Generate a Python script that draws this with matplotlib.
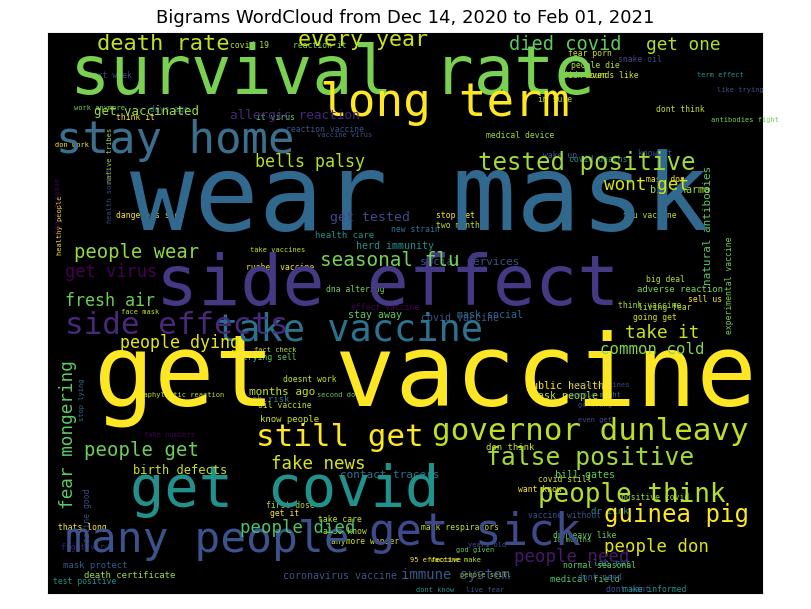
import matplotlib
matplotlib.use("Agg")
import matplotlib.pyplot as plt

big = [("wear mask",420,200,107,"#31688e"),("survival rate",332,75,67,"#7ad151"),
 ("get vaccine",425,378,100,"#fde725"),("side effect",388,285,70,"#443983"),
 ("long term",445,103,46,"#fde725"),("stay home",175,140,44,"#3b6f8e"),
 ("get covid",285,490,57,"#21918c"),("get sick",475,532,44,"#3e4a89"),
 ("many people",207,540,43,"#3b528b"),("take vaccine",350,330,37,"#2c728e"),
 ("still get",340,437,31,"#fde725"),("side effects",177,325,31,"#482878"),
 ("governor dunleavy",590,432,31,"#bddf26"),("people think",632,495,26,"#b5de2b"),
 ("false positive",590,458,24.6,"#a0da39"),("guinea pig",677,515,24,"#fde725"),
 ("tested positive",587,163,24,"#a0da39"),("death rate",163,44,22,"#c2df23"),
 ("every year",363,40,21.6,"#cde11d"),("died covid",565,45,18.6,"#5ec962"),
 ("get one",683,45,17.8,"#addc30"),("wont get",647,185,17.6,"#d2e21b"),
 ("bells palsy",310,162,16.6,"#b5de2b"),("people wear",137,253,18.9,"#90d743"),
 ("fresh air",110,301,16.6,"#6ccd5a"),("get virus",111,272,17,"#440154"),
 ("seasonal flu",390,260,19.4,"#75d054"),("take it",662,333,17.8,"#c8e020"),
 ("common cold",652,350,15.8,"#84d44b"),("people dying",180,343,16.6,"#e5e419"),
 ("people get",142,450,19,"#6ccd5a"),("fake news",318,464,17.5,"#d8e219"),
 ("fear mongering",68,435,17.8,"#5ec962"),("people died",298,528,17.4,"#4ac16d"),
 ("people don",657,547,17.4,"#dde318"),("immune system",455,575,14,"#38598c"),
 ("people need",572,557,17.4,"#48186a"),("get tested",370,218,13.3,"#3e4a89"),
 ("allergic reaction",295,116,12.7,"#482878"),("get vaccinated",147,112,12.5,"#a0da39"),
 ("months ago",282,392,11,"#c2df23"),("birth defects",180,470,12,"#c8e020")]

small = [("contact tracers",390,475,11,"#2c728e"),("social services",470,262,11,"#3b528b"),
 ("natural antibodies",708,225,11,"#5ec962"),("big pharma",680,190,10,"#a0da39"),
 ("herd immunity",395,246,10,"#21918c"),("stay away",375,315,10,"#5ec962"),
 ("covid vaccine",460,318,10,"#3b528b"),("mask social",490,315,10,"#31688e"),
 ("public health",565,386,10,"#fde725"),("mask people",565,396,10,"#bddf26"),
 ("bill gates",585,475,10,"#5ec962"),("dr zink",610,512,9,"#21918c"),
 ("lab rat",612,563,9,"#21918c"),("medical field",585,580,9,"#4ac16d"),
 ("coronavirus vaccine",340,576,10,"#3b528b"),("death certificate",130,575,9,"#a0da39"),
 ("mask protect",95,565,9,"#38598c"),("test positive",85,582,8,"#21918c"),
 ("fight virus",88,548,8,"#48186a"),("thats long",82,528,8,"#fde725"),
 ("vaccine good",88,518,8,"#3e4a89"),("know people",290,420,9,"#c8e020"),
 ("high risk",265,400,9,"#2c728e"),("trying sell",270,358,8,"#5ec962"),
 ("oil vaccine",285,405,8,"#bddf26"),("first dose",290,505,8,"#a0da39"),
 ("get it",285,513,8,"#fde725"),("take care",340,520,8,"#cde11d"),
 ("also know",345,532,8,"#c2df23"),("anymore wonder",365,542,8,"#d2e21b"),
 ("normal seasonal",600,565,8,"#5ec962"),("dont need",600,578,8,"#3b528b"),
 ("dont want",628,590,8,"#3b528b"),("make informed",655,590,8,"#21918c"),
 ("mask respirators",460,528,8,"#bddf26"),("dunleavy like",585,535,8,"#6ccd5a"),
 ("vaccine without",565,515,8,"#3b528b"),("positive covid",655,497,8,"#90d743"),
 ("covid still",565,480,8,"#d8e219"),("want know",540,490,8,"#fde725"),
 ("don think",510,448,9,"#d2e21b"),("health care",345,235,9,"#21918c"),
 ("effect vaccine",385,307,8,"#440154"),("rushed vaccine",280,268,8,"#fde725"),
 ("dna altering",355,290,8,"#75d054"),("take vaccines",278,250,7,"#c8e020"),
 ("face mask",140,312,7,"#bddf26"),("fact check",275,350,7,"#c2df23"),
 ("second dose",340,395,7,"#5ec962"),("doesnt work",310,380,8,"#c8e020"),
 ("think vaccine",650,305,8,"#a0da39"),("living fear",665,308,8,"#bddf26"),
 ("adverse reaction",680,290,9,"#75d054"),("going get",655,318,8,"#d8e219"),
 ("experimental vaccine",730,285,8,"#75d054"),("sell us",705,300,8,"#fde725"),
 ("big deal",665,280,8,"#b5de2b"),("new strain",415,230,8,"#2c728e"),
 ("two months",460,225,8,"#bddf26"),("flu vaccine",650,215,8,"#bddf26"),
 ("medical device",520,135,8,"#a0da39"),("covid deaths",598,160,8,"#21918c"),
 ("people die",595,65,8,"#bddf26"),("fear porn",590,54,8,"#d2e21b"),
 ("next week",110,75,8,"#3e4a89"),("covid 19",250,45,8,"#bddf26"),
 ("reaction it",320,45,8,"#84d44b"),("didn even",585,75,8,"#bddf26"),
 ("snake oil",640,60,8,"#3e4a89"),("like trying",740,90,7,"#3b528b"),
 ("antibodies fight",745,120,7,"#75d054"),("sounds like",612,75,8,"#d8e219"),
 ("term effect",720,75,7,"#21918c"),("im sure",555,100,8,"#bddf26"),
 ("reaction vaccine",325,130,8,"#3b528b"),("it virus",275,118,8,"#5ec962"),
 ("vaccine virus",345,135,7,"#3b528b"),("native tribes",110,155,7,"#a0da39"),
 ("think it",135,118,8,"#fde725"),("days ago",170,110,8,"#2c728e"),
 ("health social",110,195,7,"#3e4a89"),("dangerous side",150,215,8,"#fde725"),
 ("work anymore",100,108,7,"#75d054"),("stop get",455,215,8,"#fde725"),
 ("wake up",560,155,8,"#38598c"),("know it",655,153,8,"#3b528b"),
 ("mask don",665,180,8,"#fde725"),("dont think",680,110,8,"#bddf26"),
 ("don work",72,145,7,"#fde725"),("healthy people",60,225,7,"#fde725"),
 ("heart disease",58,205,7,"#440154"),("even get",595,420,7,"#3e4a89"),
 ("people might",595,395,7,"#2c728e"),("go wrong",595,405,7,"#3e4a89"),
 ("covid vaccines",600,385,7,"#3e4a89"),("stop lying",82,400,7,"#2c728e"),
 ("anaphylactic reaction",180,395,7,"#bddf26"),("fake numbers",170,435,7,"#440154"),
 ("people still",485,575,7,"#bddf26"),("dont know",435,590,7,"#21918c"),
 ("years old",487,545,7,"#3b528b"),("vaccine make",455,560,7,"#bddf26"),
 ("god given",475,550,7,"#5ec962"),("10 months",572,540,7,"#5ec962"),
 ("95 effective",435,560,7,"#fde725"),("live fear",485,590,7,"#3b528b")]

bw, bx, by, bs, bc = zip(*big)
sw, sx, sy, ss, sc = zip(*small)
rot90 = {"fear mongering","natural antibodies","experimental vaccine","heart disease",
         "healthy people","stop lying","vaccine good","native tribes","health social"}

fig = plt.figure(figsize=(8.11,6.09), dpi=100)
ax = fig.add_axes([48/811, 16/609, 714/811, 560/609])
ax.set_facecolor("black")
ax.set_xlim(48,762); ax.set_ylim(593,33)
ax.set_xticks([]); ax.set_yticks([])
for words, xs, ys, sizes, cols in [(sw,sx,sy,ss,sc),(bw,bx,by,bs,bc)]:
    for w,x,y,s,c in zip(words,xs,ys,sizes,cols):
        ax.text(x,y,w,fontsize=s*0.72,color=c,ha="center",va="center",
                family="DejaVu Sans Mono",rotation=90 if w in rot90 else 0)
fig.suptitle("Bigrams WordCloud from Dec 14, 2020 to Feb 01, 2021", fontsize=13, y=0.985)
fig.savefig("out.png", dpi=100)
